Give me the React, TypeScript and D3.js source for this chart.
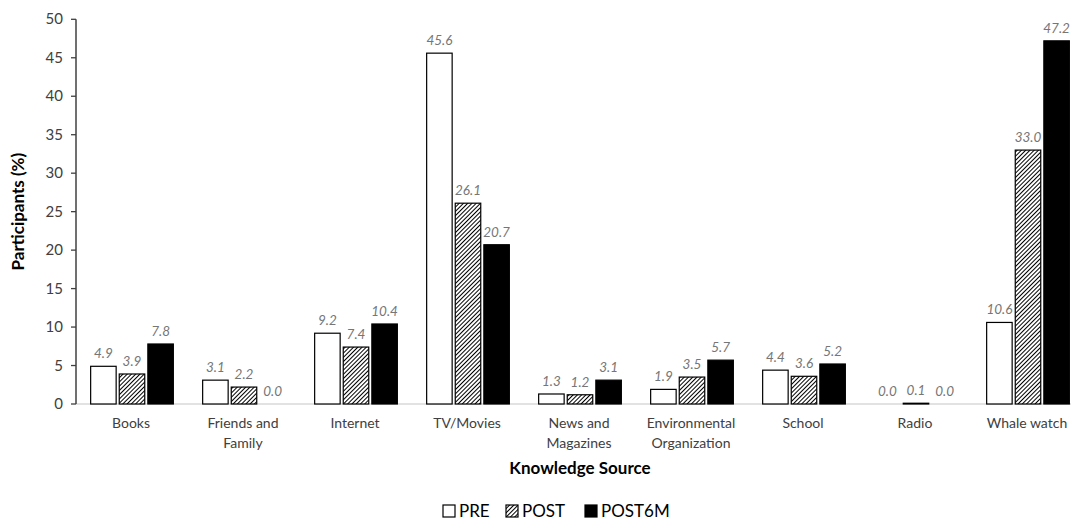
import React from "react";
import * as d3 from "d3";

const categories = [
  ["Books"],
  ["Friends and", "Family"],
  ["Internet"],
  ["TV/Movies"],
  ["News and", "Magazines"],
  ["Environmental", "Organization"],
  ["School"],
  ["Radio"],
  ["Whale watch"],
];
const seriesNames = ["PRE", "POST", "POST6M"];
const pre = [4.9, 3.1, 9.2, 45.6, 1.3, 1.9, 4.4, 0.0, 10.6];
const post = [3.9, 2.2, 7.4, 26.1, 1.2, 3.5, 3.6, 0.1, 33.0];
const post6m = [7.8, 0.0, 10.4, 20.7, 3.1, 5.7, 5.2, 0.0, 47.2];
const yTicks = [0, 5, 10, 15, 20, 25, 30, 35, 40, 45, 50];

const W = 1071;
const H = 521;
const FONT = "Lato, 'Open Sans', sans-serif";

export default function App() {
  const series = [pre, post, post6m];
  const keys = categories.map((c) => c.join(" "));
  const x = d3.scaleBand<string>().domain(keys).range([76, 1084]).padding(0);
  const y = d3.scaleLinear().domain([0, 50]).range([404, 19.3]);
  const barW = 25.5;
  const step = 28.6;
  const fills = ["#ffffff", "url(#hatch)", "#000000"];

  return (
    <svg
      width={W}
      height={H}
      style={{ position: "absolute", left: 0, top: 0, background: "#fff" }}
      fontFamily={FONT}
    >
      <defs>
        <pattern id="hatch" patternUnits="userSpaceOnUse" width="3" height="3" patternTransform="rotate(45)">
          <rect width="3" height="3" fill="#fff" />
          <line x1="0.5" y1="0" x2="0.5" y2="3" stroke="#000" strokeWidth="1" />
        </pattern>
      </defs>
      <rect width={W} height={H} fill="#fff" />

      {/* x axis line */}
      <line x1={76} x2={W} y1={y(0)} y2={y(0)} stroke="#d9d9d9" strokeWidth={1.3} />

      {/* bars */}
      {keys.map((k, i) => {
        const cx = (x(k) as number) + x.bandwidth() / 2;
        return (
          <g key={k}>
            {series.map((s, j) => {
              const bx = cx + (j - 1) * step - barW / 2;
              const v = s[i];
              const top = y(v);
              return (
                <g key={j}>
                  {v > 0 && (
                    <rect
                      x={bx}
                      y={top}
                      width={barW}
                      height={y(0) - top}
                      fill={fills[j]}
                      stroke="#000"
                      strokeWidth={1.2}
                    />
                  )}
                  <text
                    x={bx + barW / 2}
                    y={top - 8}
                    textAnchor="middle"
                    fontSize={13.5}
                    fontStyle="italic"
                    fill="#767676"
                  >
                    {v.toFixed(1)}
                  </text>
                </g>
              );
            })}
            {categories[i].map((line, li) => (
              <text
                key={li}
                x={cx - 1}
                y={428 + li * 20}
                textAnchor="middle"
                fontSize={14}
                fill="#404040"
              >
                {line}
              </text>
            ))}
          </g>
        );
      })}

      {/* y axis */}
      <line x1={76} x2={76} y1={y(50)} y2={y(0)} stroke="#404040" strokeWidth={1.5} />
      {yTicks.map((t) => (
        <g key={t}>
          <line x1={71} x2={76} y1={y(t)} y2={y(t)} stroke="#404040" strokeWidth={1.3} />
          <text x={63} y={y(t) + 5} textAnchor="end" fontSize={15} fill="#404040">
            {t}
          </text>
        </g>
      ))}

      {/* axis titles */}
      <text
        transform={`translate(24,${(y(0) + y(50)) / 2}) rotate(-90)`}
        textAnchor="middle"
        fontSize={17}
        fontWeight="bold"
        fill="#000"
      >
        Participants (%)
      </text>
      <text x={580} y={474} textAnchor="middle" fontSize={17} fontWeight="bold" fill="#000">
        Knowledge Source
      </text>

      {/* legend */}
      {[443, 506, 585].map((lx, j) => (
        <g key={j}>
          <rect x={lx} y={505} width={12} height={12} fill={fills[j]} stroke="#000" strokeWidth={1.2} />
          <text x={lx + 16} y={517} fontSize={17} fill="#000">
            {seriesNames[j]}
          </text>
        </g>
      ))}
    </svg>
  );
}
